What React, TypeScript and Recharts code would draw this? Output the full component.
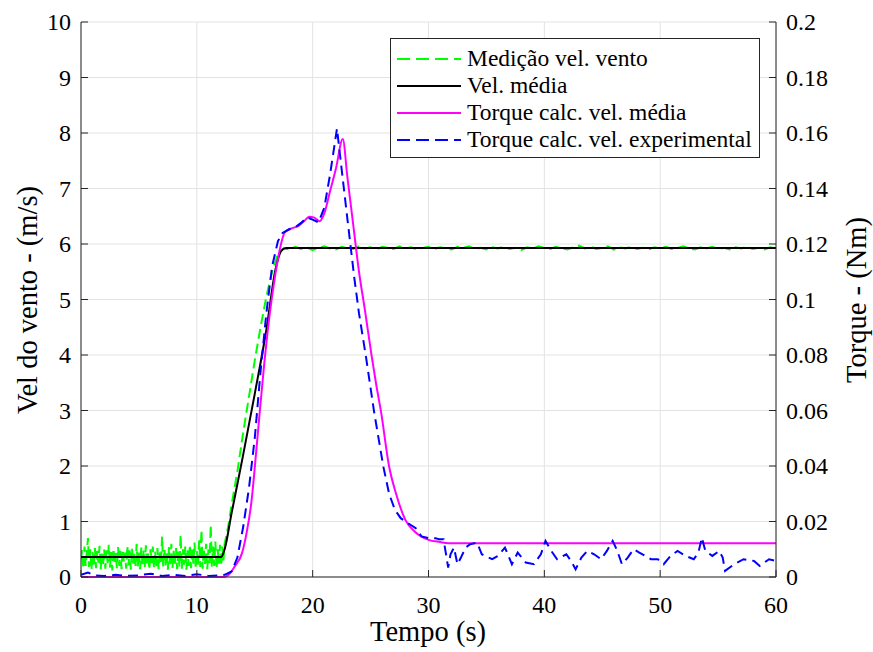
import { LineChart, Line, XAxis, YAxis, CartesianGrid } from "recharts";

// plot frame (px) - used only for tick marks / titles
const PL = 81;
const PR = 776;
const PT = 22;
const PB = 577;
const FONT = '"Liberation Serif", "Times New Roman", serif';
const AXIS = "#262626";

const timeTicks = [0, 10, 20, 30, 40, 50, 60];
const speedTicks = [0, 1, 2, 3, 4, 5, 6, 7, 8, 9, 10];
const torqueTicks = [0, 0.02, 0.04, 0.06, 0.08, 0.1, 0.12, 0.14, 0.16, 0.18, 0.2];

// Medição vel. vento (m/s)
const measTime = [
  0, 0.1, 0.2, 0.3, 0.4, 0.5, 0.6, 0.7, 0.8, 0.9, 1, 1.1, 1.2, 1.3, 1.4, 1.5, 1.6, 1.7, 1.8, 1.9,
  2, 2.1, 2.2, 2.3, 2.4, 2.5, 2.6, 2.7, 2.8, 2.9, 3, 3.1, 3.2, 3.3, 3.4, 3.5, 3.6, 3.7, 3.8, 3.9,
  4, 4.1, 4.2, 4.3, 4.4, 4.5, 4.6, 4.7, 4.8, 4.9, 5, 5.1, 5.2, 5.3, 5.4, 5.5, 5.6, 5.7, 5.8, 5.9,
  6, 6.1, 6.2, 6.3, 6.4, 6.5, 6.6, 6.7, 6.8, 6.9, 7, 7.1, 7.2, 7.3, 7.4, 7.5, 7.6, 7.7, 7.8, 7.9,
  8, 8.1, 8.2, 8.3, 8.4, 8.5, 8.6, 8.7, 8.8, 8.9, 9, 9.1, 9.2, 9.3, 9.4, 9.5, 9.6, 9.7, 9.8, 9.9,
  10, 10.1, 10.2, 10.3, 10.4, 10.5, 10.6, 10.7, 10.8, 10.9, 11, 11.1, 11.2, 11.3, 11.4, 11.5, 11.6, 11.7, 11.8, 11.9,
  12, 12.1, 12.2, 12.3, 12.4, 12.7, 13, 13.5, 14, 14.5, 15, 15.5, 16, 16.5, 17, 17.5,
  18, 18.5, 19, 19.5, 20, 20.5, 21, 21.5, 22, 22.5, 23, 23.5, 24, 24.5, 25, 25.5, 26, 26.5, 27, 27.5,
  28, 28.5, 29, 29.5, 30, 30.5, 31, 31.5, 32, 32.5, 33, 33.5, 34, 34.5, 35, 35.5, 36, 36.5, 37, 37.5,
  38, 38.5, 39, 39.5, 40, 40.5, 41, 41.5, 42, 42.5, 43, 43.5, 44, 44.5, 45, 45.5, 46, 46.5, 47, 47.5,
  48, 48.5, 49, 49.5, 50, 50.5, 51, 51.5, 52, 52.5, 53, 53.5, 54, 54.5, 55, 55.5, 56, 56.5, 57, 57.5,
  58, 58.5, 59, 59.5, 60,
];
const measSpeed = [
  0.32, 0.48, 0.15, 0.55, 0.2, 0.44, 0.7, 0.18, 0.5, 0.13, 0.45, 0.22, 0.52, 0.16, 0.47, 0.26, 0.56, 0.14, 0.42, 0.2,
  0.5, 0.15, 0.48, 0.25, 0.58, 0.17, 0.45, 0.12, 0.51, 0.23, 0.43, 0.16, 0.54, 0.2, 0.47, 0.14, 0.5, 0.27, 0.44, 0.15,
  0.56, 0.21, 0.48, 0.13, 0.52, 0.24, 0.46, 0.17, 0.6, 0.19, 0.45, 0.14, 0.53, 0.22, 0.49, 0.16, 0.57, 0.2, 0.44, 0.13,
  0.5, 0.25, 0.55, 0.15, 0.47, 0.19, 0.52, 0.14, 0.48, 0.23, 0.73, 0.17, 0.5, 0.21, 0.45, 0.13, 0.54, 0.2, 0.6, 0.16,
  0.47, 0.24, 0.52, 0.14, 0.46, 0.19, 0.76, 0.15, 0.5, 0.22, 0.55, 0.13, 0.48, 0.2, 0.58, 0.16, 0.5, 0.24, 0.62, 0.15,
  0.47, 0.21, 0.66, 0.18, 0.85, 0.15, 0.52, 0.22, 0.6, 0.14, 0.5, 0.25, 0.94, 0.17, 0.55, 0.2, 0.64, 0.15, 0.5, 0.24,
  0.58, 0.2, 0.55, 0.3, 0.6, 0.9, 1.3, 1.9, 2.6, 3.25, 3.9, 4.5, 5.05, 5.5, 5.82, 5.92,
  5.9, 5.95, 5.91, 5.94, 5.89, 5.93, 5.96, 5.92, 5.9, 5.95, 5.93, 5.91, 5.96, 5.92, 5.94, 5.9, 5.95, 5.93, 5.91, 5.96,
  5.92, 5.94, 5.9, 5.93, 5.95, 5.91, 5.94, 5.92, 5.9, 5.95, 5.93, 5.96, 5.91, 5.93, 5.9, 5.94, 5.92, 5.95, 5.91, 5.93,
  5.89, 5.94, 5.92, 5.96, 5.93, 5.91, 5.95, 5.92, 5.9, 5.94, 5.97, 5.92, 5.95, 5.91, 5.93, 5.96, 5.9, 5.94, 5.92, 5.95,
  5.91, 5.93, 5.9, 5.94, 5.92, 5.95, 5.91, 5.93, 5.96, 5.92, 5.9, 5.94, 5.92, 5.95, 5.91, 5.93, 5.9, 5.94, 5.92, 5.95,
  5.91, 5.93, 5.9, 5.94, 5.92,
];

// Vel. média (m/s)
const avgTime = [0, 12.1, 12.4, 13, 14, 15, 16, 16.8, 17.3, 17.7, 60];
const avgSpeed = [0.36, 0.36, 0.5, 1.15, 2.2, 3.3, 4.45, 5.55, 5.88, 5.93, 5.93];

// Torque calc. vel. média (Nm)
const torqueAvgTime = [
  0, 12.4, 12.8, 13.3, 13.9, 14.3, 14.7, 15.1, 15.4, 15.8, 16.3, 16.7, 17.1, 17.6, 18.2, 18.8, 19.3, 19.7,
  20.1, 20.6, 21, 21.5, 22, 22.6, 23, 23.5, 24, 24.5, 25.1, 25.5, 25.9, 26.6, 27.2, 28, 28.8, 30, 31,
  31.7, 33, 60,
];
const torqueAvg = [
  0, 0, 0.001, 0.004, 0.0086, 0.016, 0.0266, 0.044, 0.058, 0.076, 0.095, 0.107, 0.1168, 0.1242, 0.1256, 0.1266,
  0.1284, 0.1298, 0.1296, 0.1282, 0.131, 0.139, 0.147, 0.1578, 0.144, 0.127, 0.11, 0.0965, 0.0794, 0.069,
  0.0596, 0.0398, 0.03, 0.0206, 0.0164, 0.0134, 0.0126, 0.0122, 0.0122, 0.0122,
];

// Torque calc. vel. experimental (Nm)
const torqueExpTime = [
  0, 0.6, 1.2, 2, 3, 4, 5, 6, 7, 8, 9, 10, 11, 12, 12.4, 13, 13.5, 14, 14.5, 15, 15.5, 16, 16.5, 17, 17.4,
  18, 18.5, 19, 19.5, 20, 20.5, 21, 21.5, 22.1, 22.5, 23, 23.6, 24, 24.6, 25.3, 26.1, 26.6, 27.1, 27.6, 28.2,
  28.9, 29.4, 30, 30.6, 30.9, 31.3, 31.7, 31.9, 32.2, 32.5, 32.8, 33.2, 33.6, 34.2, 34.6, 35.5, 36, 36.6,
  37.2, 37.7, 38.4, 39.1, 39.7, 40.1, 40.6, 41.1, 41.9, 42.3, 42.7, 43.2, 43.7, 44.3, 44.9, 45.4, 45.9, 46.3,
  46.7, 47.2, 47.7, 48.2, 49.2, 49.8, 50.3, 50.9, 51.5, 52.2, 52.9, 53.3, 53.6, 53.9, 54.5, 55.1, 55.4, 55.6,
  56.4, 57.2, 58.1, 58.6, 59.4, 60,
];
const torqueExp = [
  0.0008, 0.0016, 0.0006, 0.0004, 0.0008, 0.0004, 0.0006, 0.0012, 0.0004, 0.0008, 0.0004, 0.001, 0.0004, 0.0006,
  0.0008, 0.002, 0.007, 0.018, 0.032, 0.05, 0.074, 0.095, 0.112, 0.121, 0.124,
  0.1254, 0.126, 0.1276, 0.1296, 0.1288, 0.1278, 0.133, 0.145, 0.1616, 0.147, 0.129, 0.1076, 0.095, 0.0794, 0.0596,
  0.0398, 0.03, 0.0242, 0.0212, 0.0195, 0.0176, 0.0146, 0.014, 0.014, 0.0136, 0.0136, 0.0034, 0.0082, 0.0106,
  0.0046, 0.007, 0.0106, 0.0118, 0.0124, 0.0082, 0.0064, 0.0076, 0.0106, 0.0046, 0.0088, 0.0052, 0.0046, 0.0082,
  0.013, 0.0094, 0.0064, 0.0082, 0.0058, 0.0028, 0.007, 0.0094, 0.0082, 0.0064, 0.0094, 0.013, 0.0094, 0.0046,
  0.007, 0.01, 0.0088, 0.0064, 0.0064, 0.0046, 0.0076, 0.0094, 0.0076, 0.0064, 0.0088, 0.0142, 0.0094, 0.0076,
  0.0094, 0.007, 0.0022, 0.0046, 0.0064, 0.0058, 0.004, 0.0064, 0.0058,
];

const zip = (t: number[], v: number[]) => t.map((x, i) => ({ t: x, v: v[i] }));
const measData = zip(measTime, measSpeed);
const avgData = zip(avgTime, avgSpeed);
const torqueAvgData = zip(torqueAvgTime, torqueAvg);
const torqueExpData = zip(torqueExpTime, torqueExp);

const legendItems = [
  { label: "Medição vel. vento", color: "#00ff00", dash: "13 6" },
  { label: "Vel. média", color: "#000000", dash: "" },
  { label: "Torque calc. vel. média", color: "#ff00ff", dash: "" },
  { label: "Torque calc. vel. experimental", color: "#0000ff", dash: "13 6" },
];

function fmt(v: number) {
  return String(Number(v.toFixed(2)));
}

function BottomTick(props: any) {
  const { x, payload } = props;
  return (
    <g>
      <line x1={x} x2={x} y1={PB} y2={PB - 7} stroke={AXIS} />
      <text x={x} y={PB + 36} textAnchor="middle" fontSize={24} fontFamily={FONT} fill="#000">
        {payload.value}
      </text>
    </g>
  );
}

function TopTick(props: any) {
  const { x } = props;
  return <line x1={x} x2={x} y1={PT} y2={PT + 7} stroke={AXIS} />;
}

function LeftTick(props: any) {
  const { y, payload } = props;
  return (
    <g>
      <line x1={PL} x2={PL + 7} y1={y} y2={y} stroke={AXIS} />
      <text x={PL - 10} y={y + 8} textAnchor="end" fontSize={24} fontFamily={FONT} fill="#000">
        {payload.value}
      </text>
    </g>
  );
}

function RightTick(props: any) {
  const { y, payload } = props;
  return (
    <g>
      <line x1={PR - 7} x2={PR} y1={y} y2={y} stroke={AXIS} />
      <text x={PR + 10} y={y + 8} textAnchor="start" fontSize={24} fontFamily={FONT} fill="#000">
        {fmt(payload.value)}
      </text>
    </g>
  );
}

function AxisTitle({ px, py, rot, text }: { px: number; py: number; rot: number; text: string }) {
  return (
    <text
      x={px}
      y={py}
      transform={rot ? `rotate(${rot} ${px} ${py})` : undefined}
      textAnchor="middle"
      dominantBaseline="central"
      fontSize={28.5}
      fontFamily={FONT}
      fill="#000"
    >
      {text}
    </text>
  );
}

function LegendBox() {
  return (
    <div
      style={{
        position: "absolute",
        left: 390,
        top: 38,
        width: 370,
        height: 120,
        border: `1px solid ${AXIS}`,
        background: "#fff",
        fontFamily: FONT,
        fontSize: 23.5,
        color: "#000",
        boxSizing: "border-box",
        paddingTop: 6,
      }}
    >
      {legendItems.map((it) => (
        <div key={it.label} style={{ display: "flex", alignItems: "center", height: 27, lineHeight: "27px" }}>
          <svg width={76} height={27} style={{ flexShrink: 0 }}>
            <line
              x1={6}
              x2={70}
              y1={14}
              y2={14}
              stroke={it.color}
              strokeWidth={2}
              strokeDasharray={it.dash || undefined}
            />
          </svg>
          <span style={{ whiteSpace: "nowrap" }}>{it.label}</span>
        </div>
      ))}
    </div>
  );
}

export default function App() {
  return (
    <div style={{ position: "absolute", left: 0, top: 0, width: 873, height: 652, background: "#fff" }}>
      <LineChart width={873} height={652} margin={{ top: PT, right: 0, bottom: 0, left: 0 }}>
        <CartesianGrid yAxisId="speed" stroke="#e3e3e3" strokeWidth={1} />
        <XAxis
          dataKey="t"
          type="number"
          domain={[0, 60]}
          ticks={timeTicks}
          allowDataOverflow
          height={75}
          stroke={AXIS}
          tickLine={false}
          tick={<BottomTick />}
          label={<AxisTitle px={428} py={631} rot={0} text="Tempo (s)" />}
        />
        <XAxis
          xAxisId="top"
          orientation="top"
          dataKey="t"
          type="number"
          domain={[0, 60]}
          ticks={timeTicks}
          height={0}
          stroke={AXIS}
          tickLine={false}
          tick={<TopTick />}
        />
        <YAxis
          yAxisId="speed"
          domain={[0, 10]}
          ticks={speedTicks}
          width={PL}
          stroke={AXIS}
          tickLine={false}
          tick={<LeftTick />}
          label={<AxisTitle px={27} py={300} rot={-90} text="Vel do vento - (m/s)" />}
        />
        <YAxis
          yAxisId="torque"
          orientation="right"
          domain={[0, 0.2]}
          ticks={torqueTicks}
          width={873 - PR}
          stroke={AXIS}
          tickLine={false}
          tick={<RightTick />}
          label={<AxisTitle px={856} py={300} rot={-90} text="Torque - (Nm)" />}
        />
        <Line
          yAxisId="speed"
          data={measData}
          dataKey="v"
          type="linear"
          stroke="#00ff00"
          strokeWidth={2}
          strokeDasharray="10 5"
          dot={false}
          isAnimationActive={false}
        />
        <Line
          yAxisId="speed"
          data={avgData}
          dataKey="v"
          type="monotone"
          stroke="#000000"
          strokeWidth={2}
          dot={false}
          isAnimationActive={false}
        />
        <Line
          yAxisId="torque"
          data={torqueAvgData}
          dataKey="v"
          type="monotone"
          stroke="#ff00ff"
          strokeWidth={2}
          dot={false}
          isAnimationActive={false}
        />
        <Line
          yAxisId="torque"
          data={torqueExpData}
          dataKey="v"
          type="linear"
          stroke="#0000ff"
          strokeWidth={2}
          strokeDasharray="10 6"
          dot={false}
          isAnimationActive={false}
        />
      </LineChart>
      <LegendBox />
    </div>
  );
}
